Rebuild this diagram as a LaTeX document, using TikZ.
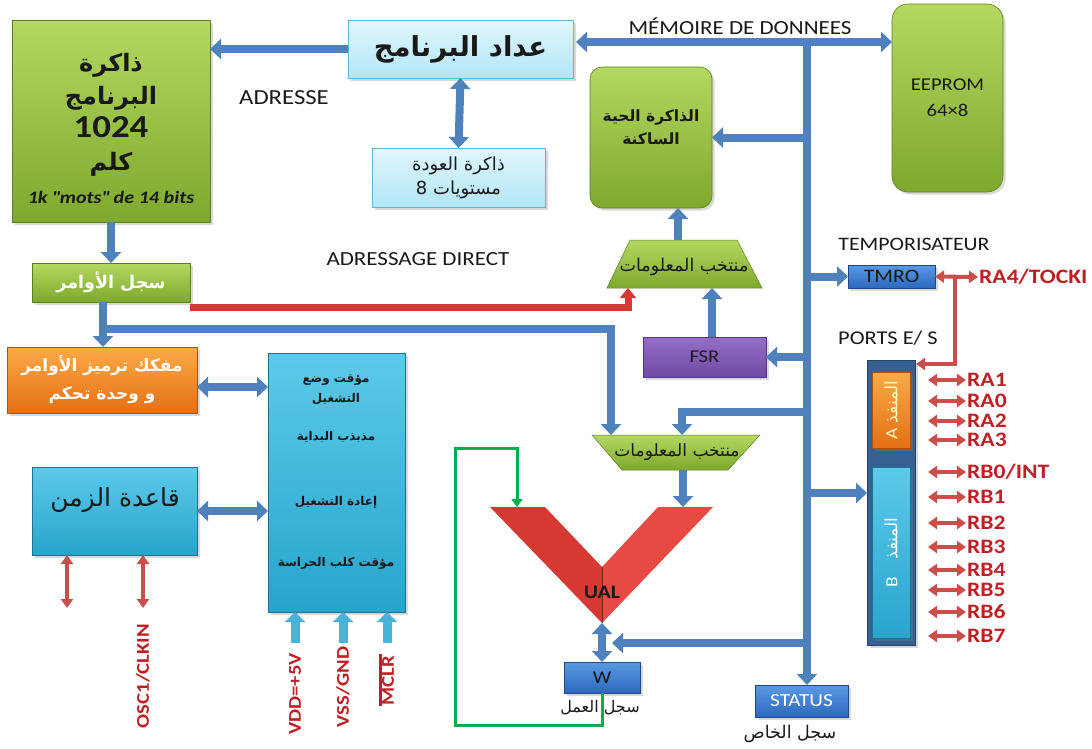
\documentclass[tikz,border=0pt]{standalone}
\usepackage{fontspec}
\setmainfont{Carlito}[FakeStretch=1.15]
\newfontfamily\arfont{DejaVu Sans}[Script=Arabic]
\TeXXeTstate=1
\newcommand\artxt[1]{{\arfont\beginR #1\endR}}
\newcommand\fsz[2]{\fontsize{#1}{#2}\selectfont}
\usetikzlibrary{arrows.meta,shadows,calc}

\definecolor{busblue}{RGB}{79,129,189}
\definecolor{busedge}{RGB}{55,96,146}
\definecolor{grnTop}{RGB}{180,216,96}
\definecolor{grnBot}{RGB}{126,168,46}
\definecolor{lcyanTop}{RGB}{224,247,253}
\definecolor{lcyanBot}{RGB}{178,230,246}
\definecolor{lcyanEdge}{RGB}{92,182,212}
\definecolor{cyanTop}{RGB}{92,202,234}
\definecolor{cyanBot}{RGB}{40,164,204}
\definecolor{orgTop}{RGB}{252,170,72}
\definecolor{orgBot}{RGB}{228,112,20}
\definecolor{purpTop}{RGB}{150,110,200}
\definecolor{purpBot}{RGB}{112,74,166}
\definecolor{regTop}{RGB}{90,154,228}
\definecolor{regBot}{RGB}{44,104,190}
\definecolor{pinred}{RGB}{204,78,74}
\definecolor{lblred}{RGB}{192,32,36}
\definecolor{aluLeft}{RGB}{214,56,50}
\definecolor{aluRight}{RGB}{230,74,66}
\definecolor{loopgreen}{RGB}{0,176,80}
\definecolor{inblue}{RGB}{70,180,218}
\definecolor{txtdark}{RGB}{25,25,25}

\begin{document}
\begin{tikzpicture}[x=1pt,y=-1pt,
  box/.style={inner sep=0pt, outer sep=0pt, draw, line width=0.6pt, align=center,
    drop shadow={shadow xshift=2.5pt, shadow yshift=-2.5pt, opacity=0.3}},
  greenbox/.style={box, draw=grnBot!75!black, top color=grnTop, bottom color=grnBot},
  lightbox/.style={box, draw=lcyanEdge, top color=lcyanTop, bottom color=lcyanBot},
  cyanbox/.style={box, draw=cyanBot!70!black, top color=cyanTop, bottom color=cyanBot},
  orangebox/.style={box, draw=orgBot!75!black, top color=orgTop, bottom color=orgBot},
  purplebox/.style={box, draw=purpBot!75!black, top color=purpTop, bottom color=purpBot},
  regbox/.style={box, draw=regBot!70!black, top color=regTop, bottom color=regBot},
  lbl/.style={font=\fsz{20}{24}, text=txtdark, inner sep=1pt},
  redlbl/.style={font=\bfseries\fsz{18}{22}, text=lblred, inner sep=1pt},
  pinlbl/.style={redlbl, font=\bfseries\fsz{20.5}{24}},
  bus/.style={line width=8pt, draw=busblue, line join=miter,
    -{Triangle[length=11pt,width=20pt]}},
  bus2/.style={bus, {Triangle[length=11pt,width=20pt]}-{Triangle[length=11pt,width=20pt]}},
  redbus/.style={line width=7pt, draw=aluLeft, line join=miter,
    -{Triangle[length=10pt,width=16pt]}},
  pin/.style={line width=4pt, draw=pinred,
    {Triangle[length=9pt,width=12pt]}-{Triangle[length=9pt,width=12pt]}},
  pinline/.style={line width=4pt, draw=pinred, line join=miter,
    -{Triangle[length=9pt,width=12pt]}},
  inarrow/.style={line width=9pt, draw=inblue, -{Triangle[length=10pt,width=20pt]}},
  loopline/.style={line width=3pt, draw=loopgreen, line join=miter,
    -{Triangle[length=8pt,width=11pt]}},
  muxshape/.style={top color=grnTop, bottom color=grnBot, draw=grnBot!75!black, line width=0.5pt},
]
\useasboundingbox (0,0) rectangle (1092,748);

% ---------- program memory and program counter ----------
\node[greenbox, minimum width=198pt, minimum height=202pt] (pmem) at (111,121) {};
\node[font=\bfseries\fsz{24}{33}, align=center, text=txtdark] (pmemtxt) at (111,128)
  {\artxt{ذاكرة}\\\artxt{البرنامج}\\{\fsz{32}{33}1024}\\\artxt{كلم}\\{\itshape\fsz{17.5}{20}1k \textquotedbl mots\textquotedbl{} de 14 bits}};

\node[lightbox, minimum width=225pt, minimum height=58pt, font=\bfseries\fsz{27.5}{30}, text=txtdark]
  (pc) at (460.5,49) {\artxt{عداد البرنامج}};
\node[lightbox, minimum width=173pt, minimum height=59pt, font=\fsz{18}{24}, text=txtdark]
  (stack) at (458.5,177.5) {\artxt{ذاكرة العودة}\\\artxt{مستويات 8}};

% ---------- data memories ----------
\node[greenbox, rounded corners=12pt, minimum width=122pt, minimum height=141pt] (ram) at (651,137.5) {};
\node[font=\bfseries\fsz{15.5}{23}, align=center, text=txtdark] (ramtxt) at (651,127)
  {\artxt{الذاكرة الحية}\\\artxt{الساكنة}};
\node[greenbox, rounded corners=16pt, minimum width=111pt, minimum height=188pt,
  font=\fsz{18}{26}, text=txtdark] (eeprom) at (947.5,98) {EEPROM\\64×8};

% ---------- instruction path ----------
\node[greenbox, minimum width=158pt, minimum height=39pt, font=\bfseries\fsz{17.5}{24}, text=white]
  (ir) at (111,282.5) {\artxt{سجل الأوامر}};
\node[orangebox, minimum width=190pt, minimum height=66pt, font=\bfseries\fsz{17}{28}, text=white]
  (dec) at (102,380) {\artxt{مفكك ترميز الأوامر}\\\artxt{و وحدة تحكم}};

% ---------- control / timing block ----------
\node[cyanbox, minimum width=137pt, minimum height=259pt] (ctl) at (336.5,482.5) {};
\node[font=\bfseries\fsz{12}{20}, align=center, text=txtdark] (ctl1) at (336,390)
  {\artxt{مؤقت وضع}\\\artxt{التشغيل}};
\node[font=\bfseries\fsz{12}{20}, text=txtdark] (ctl2) at (336,437) {\artxt{مذبذب البداية}};
\node[font=\bfseries\fsz{12}{20}, text=txtdark] (ctl3) at (336,502) {\artxt{إعادة التشغيل}};
\node[font=\bfseries\fsz{12}{20}, text=txtdark] (ctl4) at (336,563) {\artxt{مؤقت كلب الحراسة}};

\node[cyanbox, minimum width=165pt, minimum height=88pt] (tb) at (114.5,511) {};
\node[font=\fsz{25}{30}, text=txtdark] (tbtxt) at (115,500) {\artxt{قاعدة الزمن}};

% ---------- registers ----------
\node[purplebox, minimum width=123pt, minimum height=40pt, font=\fsz{18}{22}, text=txtdark]
  (fsr) at (704.5,357) {FSR};
\node[regbox, minimum width=87pt, minimum height=23pt, font=\fsz{19}{20}, text=txtdark]
  (tmr) at (891.5,276.5) {TMRO};
\node[regbox, minimum width=76pt, minimum height=31pt, font=\fsz{18}{20}, text=txtdark]
  (w) at (602,677.5) {W};
\node[regbox, minimum width=93pt, minimum height=32pt, font=\fsz{18.5}{20}, text=white]
  (status) at (801.5,701) {STATUS};
\node[font=\fsz{16}{20}, text=txtdark] (wlbl) at (600,708) {\artxt{سجل العمل}};
\node[font=\fsz{17.5}{20}, text=txtdark] (stlbl) at (790,734) {\artxt{سجل الخاص}};

% ---------- I/O ports ----------
\node[box, fill=busedge, draw=busedge!70!black, minimum width=48pt, minimum height=285pt] (ports) at (891,502.5) {};
\node[orangebox, minimum width=38pt, minimum height=76pt] (pa) at (891,410) {};
\node[cyanbox, minimum width=38pt, minimum height=171pt] (pb) at (891,552.5) {};
\node[rotate=90, font=\fsz{17}{18}, text=yellow!25!white] (patxt) at (pa) {A \artxt{المنفذ}};
\node[rotate=90, font=\fsz{17}{18}, text=white] (pbtxt) at (pb) {B\quad\artxt{المنفذ}};

% ---------- multiplexers and ALU ----------
\shadedraw[muxshape] (630,240) -- (737,240) -- (762,288) -- (607,288) -- cycle;
\node[font=\fsz{17.5}{18}, text=txtdark] (muxU) at (684,267) {\artxt{منتخب المعلومات}};
\shadedraw[muxshape] (592,435) -- (760,435) -- (728,470) -- (622,470) -- cycle;
\node[font=\fsz{17}{18}, text=txtdark] (muxL) at (677,452) {\artxt{منتخب المعلومات}};

\fill[aluLeft] (490,507) -- (545,507) -- (602,567) -- (602,623) -- cycle;
\fill[aluRight] (602,567) -- (658,507) -- (713,507) -- (602,623) -- cycle;
\draw[aluLeft!55!black, line width=0.8pt] (602,567) -- (602,623);
\node[font=\bfseries\fsz{19}{22}, text=txtdark] (alu) at (602,592) {UAL};

% ---------- named points for connectors ----------
\coordinate (busJ) at (807,42);
\coordinate (busL) at (576,42);
\coordinate (muxUtop) at (678,240);
\coordinate (muxUfsr) at (712,288);
\coordinate (muxUred) at (628,288);
\coordinate (muxLa) at (611,435);
\coordinate (muxLb) at (682,435);
\coordinate (muxLout) at (683,470);
\coordinate (aluL) at (517,507);
\coordinate (aluR) at (683,507);
\coordinate (aluB) at (602,623);
\coordinate (tapL) at (807,412);
\coordinate (tapW) at (807,643);
\coordinate (wJoin) at (612,643);
\coordinate (portIn) at (867,493);
\coordinate (irOut) at (103,302);
\coordinate (irTap) at (103,329);
\coordinate (redS) at (190,307);
\coordinate (gA) at (455,725);
\coordinate (gB) at (455,448);
\coordinate (rJn) at (955,277);
\coordinate (portTop) at (916,364);
\coordinate (osc0) at (67,608);
\coordinate (osc1) at (143,608);
\coordinate (vdd) at (295,643);
\coordinate (vss) at (343,643);
\coordinate (mclrIn) at (387,643);

% ---------- blue buses ----------
\draw[bus] (pc.west) -- (pc.west -| pmem.east);
\draw[bus2] (busL) -- (busL -| eeprom.west);
\draw[bus] (busJ) -- (busJ |- status.north);
\draw[bus2] (stack.north) -- (pc.south);
\draw[bus] (busJ |- ram.east) -- (ram.east);
\draw[bus] (muxUtop) -- (muxUtop |- ram.south);
\draw[bus] (fsr.north -| muxUfsr) -- (muxUfsr);
\draw[bus] (busJ |- fsr.east) -- (fsr.east);
\draw[bus] (busJ |- tmr.west) -- (tmr.west);
\draw[bus] (busJ |- portIn) -- (portIn);
\draw[bus] (tapL) -| (muxLb);
\draw[bus] (tapW) -- (wJoin);
\draw[bus2] (aluB) -- (w.north);
\draw[bus] (muxLout) -- (aluR);
\draw[bus] (pmem.south) -- (ir.north);
\draw[bus] (irOut) -- (irOut |- dec.north);
\draw[bus] (irTap) -| (muxLa);
\draw[bus2] ([yshift=-7pt]dec.east) -- ([yshift=-7pt]dec.east -| ctl.west);
\draw[bus2] (tb.east) -- (tb.east -| ctl.west);

% ---------- direct addressing ----------
\draw[redbus] (redS) -| (muxUred);

% ---------- W feedback loop ----------
\draw[loopline] (w.south) |- (gA) -- (gB) -| (aluL);

% ---------- clock and supply pins ----------
\draw[pin] (osc0 |- tb.south) -- (osc0);
\draw[pin] (osc1 |- tb.south) -- (osc1);
\draw[inarrow] (vdd) -- (vdd |- ctl.south);
\draw[inarrow] (vss) -- (vss |- ctl.south);
\draw[inarrow] (mclrIn) -- (mclrIn |- ctl.south);
\node[redlbl, rotate=90] (osctxt) at (143,676) {OSC1/CLKIN};
\node[redlbl, rotate=90] (vddtxt) at (295,694) {VDD=+5V};
\node[redlbl, rotate=90] (vsstxt) at (343,687) {VSS/GND};
\node[redlbl, rotate=90] (mclrtxt) at (388,681) {MCLR};
\draw[lblred, line width=3pt] ([yshift=1pt]mclrtxt.north west) -- ([yshift=1pt]mclrtxt.north east);

% ---------- timer and port pins ----------
\node[pinlbl, anchor=west] (ra4) at (978,277) {RA4/TOCKI};
\draw[pin] (tmr.east) -- (ra4.west);
\draw[pinline] (rJn) |- (portTop);

\foreach \yy/\lab/\nm in {380/RA1/ra1, 401/RA0/ra0, 421/RA2/ra2, 440/RA3/ra3,
    472/{RB0/INT}/rb0, 497/RB1/rb1, 523/RB2/rb2, 547/RB3/rb3,
    570/RB4/rb4, 590/RB5/rb5, 612/RB6/rb6, 636/RB7/rb7} {
  \node[pinlbl, anchor=west] (\nm) at (966,\yy) {\lab};
  \coordinate (\nm-in) at (928,\yy);
  \draw[pin] (\nm-in) -- (\nm.west);
}

% ---------- bus and block captions ----------
\node[lbl, font=\fsz{21.5}{24}] (adr) at (284,98) {ADRESSE};
\node[lbl] (memlbl) at (740,26) {MÉMOIRE DE DONNEES};
\node[lbl] (adrd) at (418,259) {ADRESSAGE DIRECT};
\node[lbl, font=\fsz{19}{24}] (tempo) at (914,244) {TEMPORISATEUR};
\node[lbl, font=\fsz{19.5}{24}] (portlbl) at (888,338) {PORTS E/ S};
\end{tikzpicture}
\end{document}
